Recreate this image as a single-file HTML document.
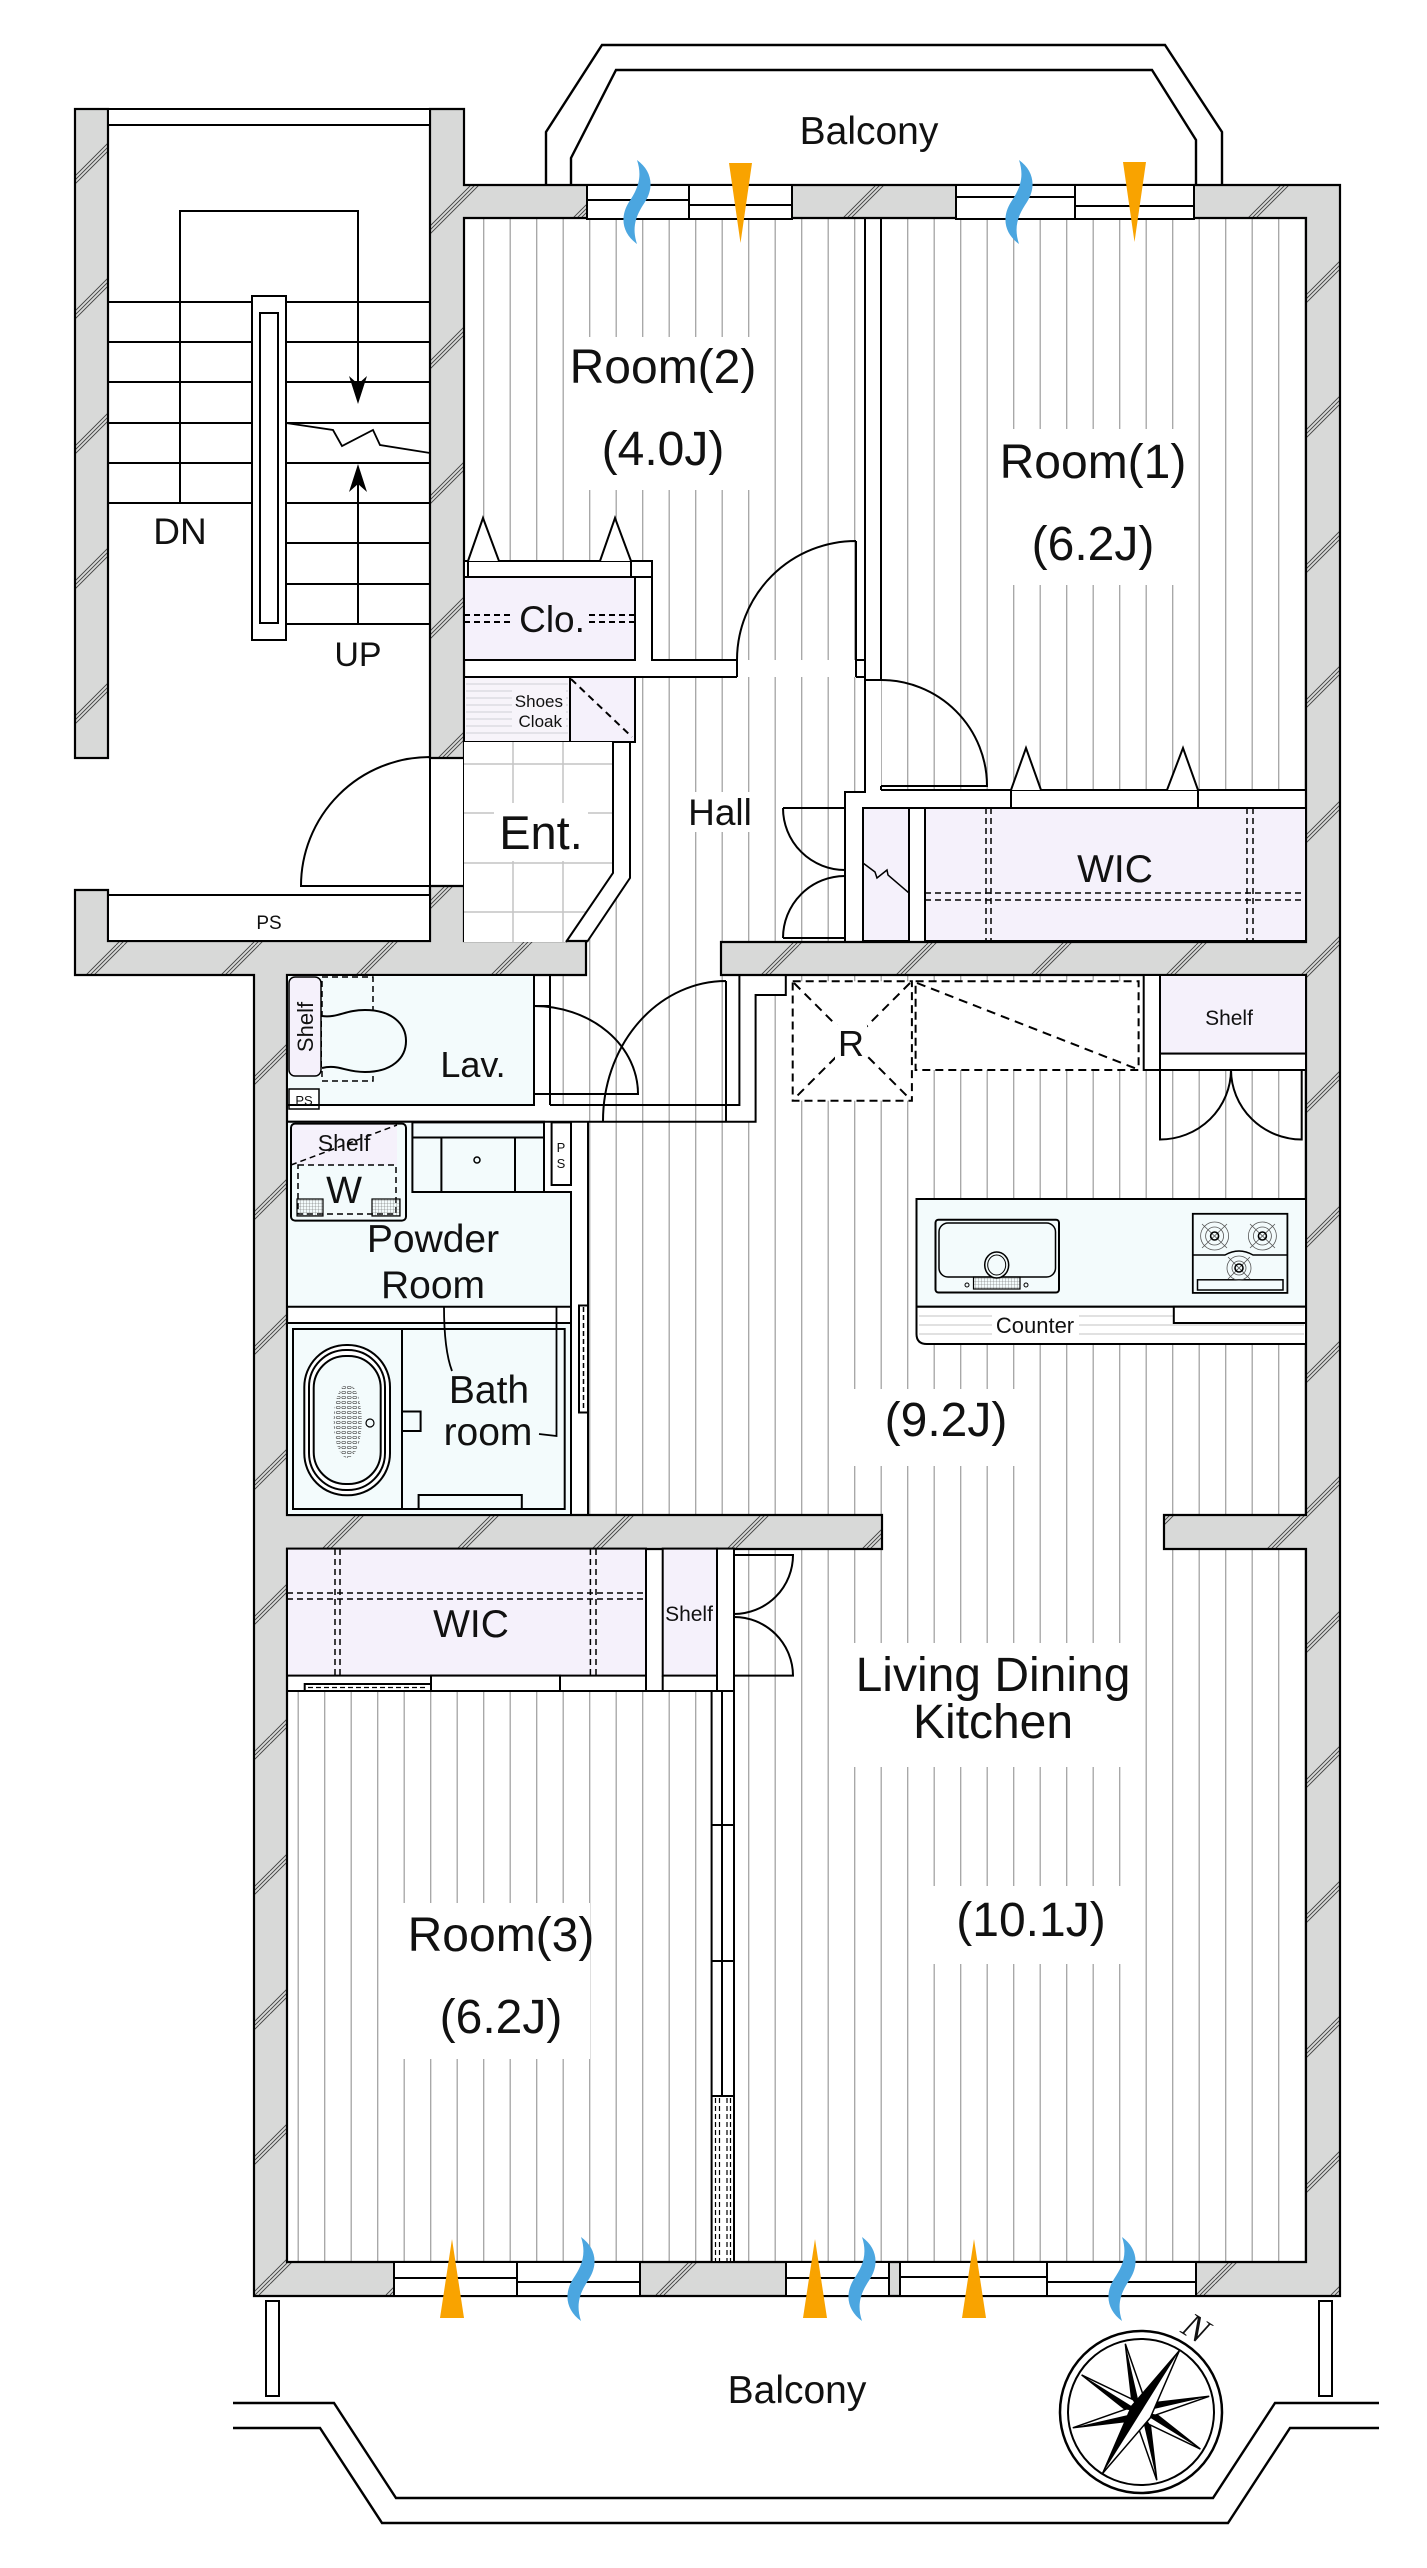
<!DOCTYPE html>
<html><head><meta charset="utf-8">
<style>
html,body{margin:0;padding:0;background:#fff;}
svg{display:block;}
text{font-family:"Liberation Sans",Arial,sans-serif;fill:#111;}
</style></head><body>
<svg xmlns="http://www.w3.org/2000/svg" width="1427" height="2568" viewBox="0 0 1427 2568">
<defs>
<pattern id="st" patternUnits="userSpaceOnUse" x="536" y="0" width="26.5" height="200"><rect width="26.5" height="200" fill="#fff"/><line x1="0.7" y1="0" x2="0.7" y2="200" stroke="#a3a3a3" stroke-width="1.3"/></pattern>
<pattern id="hatch" patternUnits="userSpaceOnUse" width="135" height="135"><path d="M0,116 L116,0 M116,135 L135,116 M0,120 L120,0 M120,135 L135,120 M0,124 L124,0 M124,135 L135,124" stroke="#444" stroke-width="0.9" fill="none"/></pattern>
<pattern id="dots" patternUnits="userSpaceOnUse" width="5.5" height="5"><ellipse cx="2.75" cy="2.5" rx="2" ry="1.2" fill="none" stroke="#555" stroke-width="0.7"/></pattern>
<pattern id="mesh" patternUnits="userSpaceOnUse" width="3" height="3"><path d="M0,0H3M0,0V3" stroke="#666" stroke-width="0.6" fill="none"/></pattern>
<path id="wallp" d="M430,109 H464 V185 H1340 V2296 H254 V975 H75 V890 H108 V941 H430 V886 H464 V941 H586 V975 H287 V1515 H882 V1549 H287 V2262 H1306 V1549 H1164 V1515 H1306 V975 H721 V942 H1306 V218 H464 V758 H430 Z"/>
<rect id="wall2" x="75" y="109" width="33" height="649"/>
<path id="sq" d="M0,0 C14,10 18,26 8,42 C0,54 -6,66 0,84 C-14,74 -18,58 -8,42 C0,30 6,18 0,0 Z" fill="#4ba6e0"/>
</defs>
<rect width="1427" height="2568" fill="#fff"/>

<!-- floor stripes -->
<g fill="url(#st)">
<path d="M464,218 H865 V660 H652 V561 H464 Z"/>
<rect x="881" y="218" width="425" height="572"/>
<path d="M635,677 H865 V792 H845 V942 H721 V975 H586 V942 L630,878 V742 H635 Z"/>
<path d="M550,975 H1306 V2262 H734 V1549 H588 V1105 H550 Z"/>
<rect x="287" y="1691" width="425" height="571"/>
</g>
<!-- white overlays -->
<g fill="#fff">
<rect x="564" y="337" width="198" height="153"/>
<rect x="997" y="429" width="200" height="156"/>
<rect x="684" y="792" width="74" height="40"/>
<rect x="853" y="1389" width="185" height="77"/>
<rect x="853" y="1643" width="291" height="124"/>
<rect x="932" y="1886" width="212" height="78"/>
<rect x="403" y="1903" width="187" height="156"/>
<rect x="739.4" y="975" width="46.4" height="20"/>
<rect x="739.4" y="995" width="16.2" height="126.7"/>
<rect x="544" y="1121.7" width="44" height="393.3"/>
</g>

<!-- walls -->
<use href="#wallp" fill="#d8d9d8"/>
<use href="#wallp" fill="url(#hatch)"/>
<use href="#wallp" fill="none" stroke="#000" stroke-width="2.2"/>
<use href="#wall2" fill="#d8d9d8"/>
<use href="#wall2" fill="url(#hatch)"/>
<use href="#wall2" fill="none" stroke="#000" stroke-width="2.2"/>

<!-- windows -->
<g fill="#fff" stroke="#000" stroke-width="2">
<rect x="587" y="185" width="102" height="34"/>
<rect x="689" y="185" width="103" height="34"/>
<rect x="956" y="185" width="119" height="34"/>
<rect x="1075" y="185" width="119" height="34"/>
<rect x="394" y="2262" width="123" height="34"/>
<rect x="517" y="2262" width="123" height="34"/>
<rect x="786" y="2262" width="103" height="34"/>
<rect x="900" y="2262" width="147" height="34"/>
<rect x="1047" y="2262" width="149" height="34"/>
</g>
<path d="M587,200H689 M689,205H792 M956,197H1075 M1075,206H1194 M394,2278H517 M517,2282H640 M786,2278H889 M900,2277H1047 M1047,2282H1196" stroke="#000" stroke-width="2" fill="none"/>

<!-- stair -->
<g stroke="#000" stroke-width="2" fill="none">
<rect x="108" y="109" width="322" height="16" fill="#fff"/>
<path d="M108,302H252 M108,342H252 M108,382H252 M108,423H252 M108,463H252 M108,503H252 M286,302H430 M286,342H430 M286,382H430 M286,423H430 M286,463H430 M286,503H430 M286,543H430 M286,584H430 M286,624H430"/>
<rect x="252" y="296" width="34" height="344" fill="#fff"/>
<rect x="260" y="313" width="18" height="310" fill="#fff"/>
<path d="M180,503 V211 H358 V390"/>
<path d="M358,624 V478"/>
<path d="M286,423 L333,430 L342,446 L373,430 L380,445 L430,453" stroke-width="1.8"/>
<rect x="108" y="895" width="322" height="46" fill="#fff"/>
<path d="M430,757 A129,129 0 0 0 301,886 H430 V757"/>
<path d="M464,758 V886"/>
</g>
<path d="M349,376 L358,384 L367,376 L358,404 Z" fill="#000"/>
<path d="M349,492 L358,484 L367,492 L358,464 Z" fill="#000"/>

<!-- Room2 closet / shoes / ent -->
<g stroke="#000" stroke-width="2" fill="none">
<rect x="464" y="561" width="188" height="16" fill="#fff"/>
<path d="M468,561V577 M631,561V577"/>
<path d="M468,561 L483,518 L499,561 M600,561 L615,518 L631,561" fill="#fff"/>
<rect x="464" y="577" width="171" height="83" fill="#f5f1fb"/>
<rect x="464" y="677" width="106" height="65" fill="#f7f4fa"/>
<rect x="570" y="677" width="65" height="65" fill="#f5f1fb"/>
</g>
<path d="M466,684H568 M466,691H568 M466,698H568 M466,705H568 M466,712H568 M466,719H568 M466,726H568 M466,733H568" stroke="#cfcfd6" stroke-width="1"/>
<rect x="512" y="690" width="54" height="42" fill="#f7f4fa"/>
<g stroke="#000" stroke-width="2" fill="none">
<rect x="464" y="677" width="171" height="65"/>
<path d="M570,677V742"/>
<path d="M571,679 L632,737" stroke-dasharray="7 5"/>
<path d="M464,615H510 M464,622H510 M589,615H635 M589,622H635" stroke-dasharray="6 4"/>
<path d="M652,561 V660 H737 M856,660 H865 M635,677 H737 M856,677 H865"/>
<path d="M856,541 A119,119 0 0 0 737,660 V677 M856,541 V677"/>
</g>
<path d="M464,742 H613 V873 L566,942 H464 Z" fill="#fff"/>
<path d="M513,742V942 M563,742V942 M464,764H613 M464,813H613 M464,863H613 M464,912H587" stroke="#c4c4c4" stroke-width="1.5"/>
<rect x="494" y="803" width="94" height="58" fill="#fff"/>
<path d="M613,742 V873 L566,942 M630,742 V878 L587,942" stroke="#000" stroke-width="2" fill="none"/>

<!-- Room1 / hall right -->
<g stroke="#000" stroke-width="2" fill="none">
<path d="M865,218 V792 H845 V942 M881,218 V680 M881,786 V790 M865,680 H881"/>
<path d="M881,680 A106,106 0 0 1 987,786 H881"/>
<path d="M881,790 H1306 M863,808 H1306"/>
<rect x="1011" y="790" width="187" height="18" fill="#fff"/>
<path d="M1011,790 L1026,748 L1041,790 M1167,790 L1183,748 L1198,790" fill="#fff"/>
<rect x="863" y="808" width="46" height="133" fill="#f5f1fb"/>
<rect x="925" y="808" width="381" height="133" fill="#f5f1fb"/>
<path d="M909,808V941"/>
<path d="M986,808V941 M991,808V941 M1247,808V941 M1253,808V941 M925,893H1306 M925,900H1306" stroke-width="1.5" stroke-dasharray="6 4"/>
<path d="M863,863 L875,872 L877,878 L887,870 L888,875 L909,893" stroke-width="1.5"/>
<path d="M783,808 H845 M783,808 A62,62 0 0 0 845,870 M783,938 H845 M783,938 A62,62 0 0 1 845,876"/>
</g>
<rect x="1070" y="855" width="90" height="36" fill="#f5f1fb"/>

<!-- Lav -->
<g stroke="#000" stroke-width="2" fill="none">
<rect x="287" y="975" width="247" height="130" fill="#f3fbfc"/>
<rect x="289" y="977" width="32" height="99" rx="6" fill="#f5f1fb" stroke-width="1.5"/>
<rect x="322" y="977" width="51" height="104" stroke-width="1.5" stroke-dasharray="6 4"/>
<path d="M322,1016 C338,1018 345,1010 365,1010 C392,1010 406,1024 406,1041 C406,1058 392,1072 365,1072 C345,1072 338,1064 322,1068" fill="#f3fbfc"/>
<rect x="289" y="1089" width="30" height="20" fill="#fff" stroke-width="1.5"/>
<path d="M550,975 V1105 M534,1006 H550"/>
<path d="M534,1006 A104,88 0 0 1 638,1094 H534"/>
<path d="M287,1105 H534 M550,1105 H739.4 V975 M287,1121.7 H755.6 V995 H785.8 V975"/>
<path d="M726,981 V1121.7 M726,981 A123,140 0 0 0 603,1121.7"/>
</g>

<!-- Powder / Bath -->
<g stroke="#000" stroke-width="2" fill="none">
<path d="M287,1121.7 H544 V1192 H571 V1306.7 H287 Z" fill="#f3fbfc"/>
<rect x="291" y="1123.6" width="106" height="41.4" fill="#f5f1fb" stroke="none"/>
<rect x="291" y="1123.6" width="115" height="97" rx="4"/>
<path d="M291,1165 L397,1125" stroke-width="1.5" stroke-dasharray="6 4"/>
<rect x="298" y="1165" width="98" height="49" stroke-width="1.5" stroke-dasharray="6 4"/>
<rect x="297" y="1199" width="26" height="17" fill="url(#mesh)" stroke-width="1.2"/>
<rect x="372" y="1199" width="28" height="17" fill="url(#mesh)" stroke-width="1.2"/>
<rect x="412.4" y="1122.4" width="131.6" height="69.6" fill="#f3fbfc"/>
<path d="M412.4,1137.5H544 M441.4,1137.5V1192 M515,1137.5V1192"/>
<circle cx="477" cy="1160" r="3" stroke-width="1.5"/>
<rect x="551.6" y="1122.4" width="19.4" height="62.6" fill="#fff"/>
<path d="M571,1192 V1515 M588,1121.7 V1515"/>
<rect x="287" y="1323" width="284" height="192" fill="#f3fbfc"/>
<rect x="293" y="1329" width="271.7" height="180"/>
<rect x="304.3" y="1345" width="85.7" height="150.3" rx="42" fill="#fff"/>
<rect x="309" y="1350" width="76" height="140" rx="37"/>
<rect x="313.7" y="1356" width="67" height="128" rx="32" fill="#f3fbfc"/>
<ellipse cx="347.7" cy="1421" rx="14" ry="37" fill="url(#dots)" stroke="none"/>
<circle cx="370" cy="1423" r="4" stroke-width="1.2"/>
<path d="M402,1329 V1509"/>
<rect x="402" y="1411.5" width="18.6" height="19.5"/>
<rect x="418.6" y="1495" width="103.2" height="14"/>
<path d="M444,1306.7 C444,1330 446,1355 452,1371 M539,1434 L556.5,1436 V1306.7" stroke-width="1.8"/>
<rect x="579" y="1305.5" width="9" height="107" fill="#fff"/>
<path d="M583.5,1307 V1411" stroke-width="1.5" stroke-dasharray="5 3"/>
</g>

<!-- Kitchen -->
<g stroke="#000" stroke-width="2" fill="none">
<rect x="792.7" y="981.3" width="119.2" height="119.4" fill="#fff" stroke-dasharray="8 5"/>
<path d="M794,983 L910,1099 M910,983 L794,1099" stroke-dasharray="9 6"/>
<rect x="915.6" y="981.3" width="223" height="88.7" fill="#fff" stroke-dasharray="8 5"/>
<path d="M917,983 L1137,1069" stroke-dasharray="9 6"/>
<rect x="1143.7" y="975" width="16.3" height="95" fill="#fff"/>
<rect x="1160" y="975" width="146" height="78.6" fill="#f5f1fb"/>
<rect x="1160" y="1053.6" width="146" height="16.4" fill="#fff"/>
<path d="M1160,1070 V1139.5 A71,70 0 0 0 1231,1070 M1301.7,1070 V1139.5 A71,70 0 0 1 1231,1070"/>
<rect x="916.5" y="1199" width="389.5" height="107.7" fill="#f3fbfc"/>
<path d="M916.5,1306.7 H1306 V1344 H927 Q916.5,1344 916.5,1334 Z" fill="#fff"/>
<path d="M919,1316H1304 M919,1325H1304 M919,1334H1304" stroke="#cfcfcf" stroke-width="1.2"/>
<rect x="1173.8" y="1306.7" width="132.2" height="16.3" fill="#fff"/>
<rect x="935.5" y="1219.7" width="123.5" height="72.8" rx="3"/>
<rect x="939" y="1223" width="116.5" height="54" rx="9" stroke-width="1.5"/>
<rect x="973.5" y="1277" width="46.5" height="12" fill="url(#mesh)" stroke-width="1.2"/>
<ellipse cx="996.7" cy="1265" rx="12" ry="13" stroke-width="1.5" fill="#f3fbfc"/>
<ellipse cx="996.7" cy="1265" rx="9" ry="10" stroke-width="1"/>
<circle cx="967" cy="1285" r="2" stroke-width="1"/>
<circle cx="1026" cy="1285" r="2" stroke-width="1"/>
<rect x="1192.8" y="1213.8" width="94.6" height="79.1" stroke-width="1.8"/>
<path d="M1192.8,1255 H1225 Q1239,1247 1253,1255 H1287.4" stroke-width="1.5"/>
<rect x="1197.5" y="1279.8" width="85.5" height="10.2" stroke-width="1.5"/>
</g>
<g stroke="#555" stroke-width="0.8" fill="none">
<circle cx="1214.6" cy="1236" r="14"/><circle cx="1214.6" cy="1236" r="9"/>
<circle cx="1262.4" cy="1236" r="14"/><circle cx="1262.4" cy="1236" r="9"/>
<circle cx="1239" cy="1268" r="12"/><circle cx="1239" cy="1268" r="7"/>
<path d="M1202,1224 L1227,1248 M1227,1224 L1202,1248 M1250,1224 L1275,1248 M1275,1224 L1250,1248 M1228,1257 L1250,1279 M1250,1257 L1228,1279"/>
</g>
<g fill="none" stroke="#000" stroke-width="1.6">
<circle cx="1214.6" cy="1236" r="4"/><circle cx="1262.4" cy="1236" r="4"/><circle cx="1239" cy="1268" r="4"/>
</g>
<rect x="835" y="1025" width="32" height="38" fill="#fff"/>
<rect x="992" y="1313" width="87" height="28" fill="#fff"/>

<!-- Lower WIC / Room3 -->
<g stroke="#000" stroke-width="2" fill="none">
<rect x="287" y="1548.6" width="359" height="127" fill="#f5f1fb"/>
<path d="M335,1549V1675.6 M340,1549V1675.6 M590.4,1549V1675.6 M596,1549V1675.6 M287,1593H646 M287,1599H646" stroke-width="1.5" stroke-dasharray="6 4"/>
<rect x="662.7" y="1548.6" width="54.3" height="127" fill="#f5f1fb"/>
<rect x="717" y="1548.6" width="17" height="142.4" fill="#fff"/>
<path d="M287,1691H734 M662.7,1675.6V1691 M646,1675.6V1691"/>
<rect x="431" y="1675.6" width="129" height="15.4" fill="#fff"/>
<rect x="304.7" y="1684" width="126.3" height="7" fill="#fff"/>
<path d="M308,1687.5H428" stroke-width="1.2" stroke-dasharray="5 3"/>
<path d="M734,1555 H793 A59,59 0 0 1 734,1614 M734,1675.6 H793 A59,59 0 0 0 734,1617"/>
<rect x="711.6" y="1691" width="22.4" height="571" fill="#fff"/>
<path d="M722,1691V2096 M711.6,1825H734 M711.6,1961H734 M711.6,2096H734"/>
<path d="M715.5,2098V2262 M719.5,2098V2262 M727,2098V2262 M730.5,2098V2262" stroke-width="1.2" stroke-dasharray="5 3"/>
</g>
<rect x="452" y="1603" width="40" height="38" fill="#f5f1fb"/>

<!-- Balconies -->
<g stroke="#000" stroke-width="2.4" fill="none">
<path d="M546,185 V132 L602,45 H1165 L1222,132 V185"/>
<path d="M571,185 V158 L616,70 H1152 L1196,140 V185"/>
<path d="M233,2403 H334 L396,2498 H1213 L1275,2403 H1379"/>
<path d="M233,2428 H320 L382,2523 H1228 L1290,2428 H1379"/>
<rect x="266" y="2301" width="13" height="95" fill="#fff" stroke-width="2"/>
<rect x="1319" y="2301" width="13" height="95" fill="#fff" stroke-width="2"/>
</g>

<!-- orange triangles -->
<g fill="#f9a300">
<polygon points="729,163 752,163 740.5,243"/>
<polygon points="1123,162 1146,162 1134.5,242"/>
<polygon points="452,2239 464,2318 440,2318"/>
<polygon points="815,2239 827,2318 803,2318"/>
<polygon points="974,2239 986,2318 962,2318"/>
</g>
<!-- blue squiggles -->
<use href="#sq" x="637" y="160"/>
<use href="#sq" x="1019" y="160"/>
<use href="#sq" x="581" y="2237"/>
<use href="#sq" x="862" y="2237"/>
<use href="#sq" x="1122" y="2237"/>

<!-- compass -->
<circle cx="1141" cy="2412" r="81" fill="#fff" stroke="#000" stroke-width="2.5"/>
<circle cx="1141" cy="2412" r="73" fill="none" stroke="#000" stroke-width="2"/>
<polygon points="1081.6,2374.9 1131.7,2399 1125.3,2343.8 1143.6,2396.2 1179.2,2350.9 1154,2402.7 1209.2,2396.3 1156.8,2414.6 1200.4,2449.1 1150.3,2425 1156.8,2480.2 1138.4,2427.8 1102.8,2473.1 1128,2421.3 1072.8,2427.8 1125.2,2409.4" fill="#fff" stroke="#000" stroke-width="1.5" stroke-linejoin="miter"/>
<g fill="#000">
<polygon points="1141,2412 1081.6,2374.9 1125.2,2409.4"/>
<polygon points="1141,2412 1125.3,2343.8 1131.7,2399"/>
<polygon points="1141,2412 1179.2,2350.9 1143.6,2396.2"/>
<polygon points="1141,2412 1209.2,2396.3 1154,2402.7"/>
<polygon points="1141,2412 1200.4,2449.1 1156.8,2414.6"/>
<polygon points="1141,2412 1156.8,2480.2 1150.3,2425"/>
<polygon points="1141,2412 1102.8,2473.1 1138.4,2427.8"/>
<polygon points="1141,2412 1072.8,2427.8 1128,2421.3"/>
</g>
<polygon points="1179.2,2350.9 1150.3,2417.8 1102.8,2473.1 1131.7,2406.2" fill="#fff" stroke="#000" stroke-width="1.5"/>
<polygon points="1179.2,2350.9 1131.7,2406.2 1102.8,2473.1 1141,2412" fill="#000"/>
<text x="1196" y="2340" font-family="Liberation Serif,serif" font-style="italic" font-size="36" text-anchor="middle" transform="rotate(32 1196 2328)" style="font-family:'Liberation Serif',serif">N</text>

<!-- Labels -->
<g text-anchor="middle">
<text x="869" y="144" font-size="39">Balcony</text>
<text x="797" y="2403" font-size="39">Balcony</text>
<text x="180" y="544" font-size="37">DN</text>
<text x="358" y="666" font-size="34">UP</text>
<text x="269" y="929" font-size="19">PS</text>
<text x="663" y="383" font-size="48">Room(2)</text>
<text x="663" y="465" font-size="48">(4.0J)</text>
<text x="1093" y="478" font-size="48">Room(1)</text>
<text x="1093" y="560" font-size="48">(6.2J)</text>
<text x="552" y="632" font-size="37">Clo.</text>
<text x="720" y="825" font-size="37">Hall</text>
<text x="541" y="849" font-size="47">Ent.</text>
<text x="1115" y="882" font-size="39">WIC</text>
<text x="473" y="1077" font-size="36">Lav.</text>
<text x="304" y="1105" font-size="13">PS</text>
<text x="344" y="1151" font-size="23">Shelf</text>
<text x="344" y="1203" font-size="38">W</text>
<text x="561" y="1152" font-size="13">P</text>
<text x="561" y="1168" font-size="13">S</text>
<text x="433" y="1252" font-size="39">Powder</text>
<text x="433" y="1298" font-size="39">Room</text>
<text x="489" y="1403" font-size="39">Bath</text>
<text x="488" y="1445" font-size="39">room</text>
<text x="851" y="1056" font-size="36">R</text>
<text x="1229" y="1025" font-size="21">Shelf</text>
<text x="1035" y="1333" font-size="22">Counter</text>
<text x="946" y="1436" font-size="48">(9.2J)</text>
<text x="471" y="1637" font-size="39">WIC</text>
<text x="689" y="1621" font-size="21">Shelf</text>
<text x="993" y="1691" font-size="48">Living Dining</text>
<text x="993" y="1738" font-size="48">Kitchen</text>
<text x="1031" y="1936" font-size="48">(10.1J)</text>
<text x="501" y="1951" font-size="48">Room(3)</text>
<text x="501" y="2033" font-size="48">(6.2J)</text>
<text x="0" y="0" font-size="22" transform="translate(313 1027) rotate(-90)">Shelf</text>
</g>
<g text-anchor="end" font-size="17">
<text x="563" y="707">Shoes</text>
<text x="562" y="727">Cloak</text>
</g>
</svg>
</body></html>
